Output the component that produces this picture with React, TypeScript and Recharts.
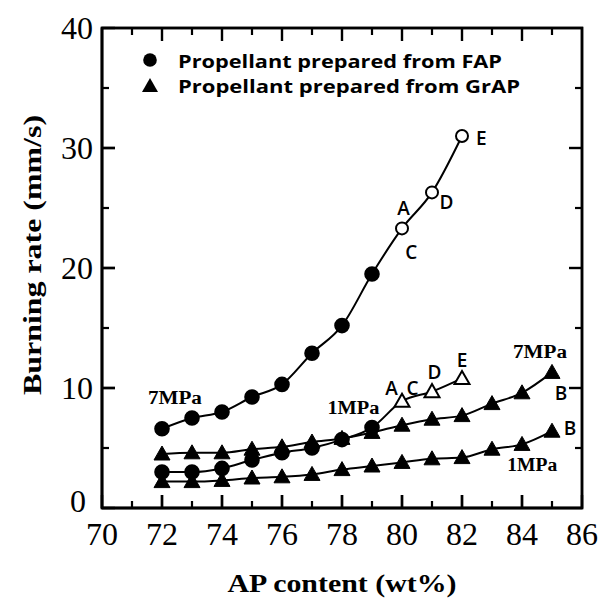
import React from 'react';
import * as Recharts from 'recharts';
import { LineChart, Line, XAxis, YAxis, Customized } from 'recharts';

// AP content (wt%) for each series
const fapContent = [72, 73, 74, 75, 76, 77, 78, 79, 80, 81, 82];
const grapContent = [72, 73, 74, 75, 76, 77, 78, 79, 80, 81, 82, 83, 84, 85];

// Burning rate (mm/s)
const fap7MPa = [6.6, 7.5, 8.0, 9.25, 10.3, 12.9, 15.2, 19.5, 23.3, 26.3, 31.0];
const fap1MPa = [3.0, 3.0, 3.3, 4.0, 4.6, 5.0, 5.7, 6.7, 8.9, 9.7, 10.8];
const grap7MPa = [4.5, 4.6, 4.6, 4.9, 5.1, 5.5, 5.8, 6.3, 6.9, 7.4, 7.7, 8.7, 9.6, 11.3];
const grap1MPa = [2.2, 2.2, 2.3, 2.5, 2.6, 2.8, 3.2, 3.5, 3.8, 4.1, 4.2, 4.9, 5.3, 6.4];

// FAP samples A, C, D, E (80-82 wt%) drawn with open markers
const fapOpenFrom = 80;

const xDomain = [70, 86];
const yDomain = [0, 40];
const xMajor = [70, 72, 74, 76, 78, 80, 82, 84, 86];
const xMinor = [71, 73, 75, 77, 79, 81, 83, 85];
const yMajor = [0, 10, 20, 30, 40];
const yMinor = [5, 15, 25, 35];

const annotations = [
  { text: '7MPa', x: 72.43, y: 9.17, kind: 'serif', len: 54 },
  { text: '1MPa', x: 78.38, y: 8.33, kind: 'serif', len: 52 },
  { text: '7MPa', x: 84.6, y: 13.0, kind: 'serif', len: 54 },
  { text: '1MPa', x: 84.34, y: 3.58, kind: 'serif', len: 50 },
  { text: 'B', x: 85.3, y: 9.6, kind: 'sans', len: 0 },
  { text: 'B', x: 85.6, y: 6.67, kind: 'sans', len: 0 },
  { text: 'A', x: 80.05, y: 25.0, kind: 'sans', len: 0 },
  { text: 'C', x: 80.31, y: 21.33, kind: 'sans', len: 0 },
  { text: 'D', x: 81.48, y: 25.5, kind: 'sans', len: 0 },
  { text: 'E', x: 82.64, y: 30.83, kind: 'sans', len: 0 },
  { text: 'A', x: 79.65, y: 10.0, kind: 'sans', len: 0 },
  { text: 'C', x: 80.35, y: 10.0, kind: 'sans', len: 0 },
  { text: 'D', x: 81.08, y: 11.33, kind: 'sans', len: 0 },
  { text: 'E', x: 82.0, y: 12.33, kind: 'sans', len: 0 },
];

const toData = (xs: number[], ys: number[], openFrom: number | null) =>
  xs.map((x, i) => ({ x, y: ys[i], open: openFrom !== null && x >= openFrom }));

const fap7Data = toData(fapContent, fap7MPa, fapOpenFrom);
const fap1Data = toData(fapContent, fap1MPa, fapOpenFrom);
const grap7Data = toData(grapContent, grap7MPa, null);
const grap1Data = toData(grapContent, grap1MPa, null);

// plot frame corners (bottom-left, top-right)
const frameCorners = [
  { x: xDomain[0], y: yDomain[0] },
  { x: xDomain[1], y: yDomain[1] },
];

// inward tick marks on all four sides
const innerX = (vs: number[]) => vs.filter((v) => v !== xDomain[0] && v !== xDomain[1]);
const innerY = (vs: number[]) => vs.filter((v) => v !== yDomain[0] && v !== yDomain[1]);
const tickMarks = [
  ...innerX(xMajor).map((v) => ({ x: v, y: yDomain[0], side: 'b', major: true })),
  ...xMinor.map((v) => ({ x: v, y: yDomain[0], side: 'b', major: false })),
  ...innerX(xMajor).map((v) => ({ x: v, y: yDomain[1], side: 't', major: true })),
  ...xMinor.map((v) => ({ x: v, y: yDomain[1], side: 't', major: false })),
  ...innerY(yMajor).map((v) => ({ x: xDomain[0], y: v, side: 'l', major: true })),
  ...yMinor.map((v) => ({ x: xDomain[0], y: v, side: 'l', major: false })),
  ...innerY(yMajor).map((v) => ({ x: xDomain[1], y: v, side: 'r', major: true })),
  ...yMinor.map((v) => ({ x: xDomain[1], y: v, side: 'r', major: false })),
];

const tri = (cx: number, cy: number, s = 8) =>
  `M${cx},${cy - s} L${cx + s},${cy + s * 0.75} L${cx - s},${cy + s * 0.75} Z`;

const FRAME_W = 2.5;
const framePath = (left: number, top: number, right: number, bottom: number) => {
  const h = FRAME_W / 2;
  return (
    `M${left - h},${top - h} H${right + h} V${bottom + h} H${left - h} Z ` +
    `M${left + h},${top + h} V${bottom - h} H${right - h} V${top + h} Z`
  );
};

const makeDot = (filledShape: 'circle' | 'triangle', openShape: 'circle' | 'triangle') => (props: any) => {
  const { cx, cy, payload, index } = props;
  if (cx == null || cy == null) return <g key={index} />;
  const open = payload && payload.open;
  const shape = open ? openShape : filledShape;
  const fill = open ? '#fff' : '#000';
  if (shape === 'circle') {
    return <circle key={index} cx={cx} cy={cy} r={open ? 6 : 6.8} fill={fill} stroke="#000" strokeWidth={2} />;
  }
  return <path key={index} d={tri(cx, cy, open ? 7.5 : 8)} fill={fill} stroke="#000" strokeWidth={open ? 2 : 1} />;
};

// frame drawn as a filled ring from the two scaled corner points
const frameDot = (props: any) => {
  const { index, points } = props;
  if (index !== 0 || !points || points.length < 2) return <g key={index} />;
  const a = points[0];
  const b = points[1];
  const left = Math.min(a.x, b.x);
  const right = Math.max(a.x, b.x);
  const top = Math.min(a.y, b.y);
  const bottom = Math.max(a.y, b.y);
  return <path key={index} d={framePath(left, top, right, bottom)} fill="#000" fillRule="evenodd" />;
};

// tick marks drawn as thin filled rectangles
const tickMarkDot = (props: any) => {
  const { cx, cy, payload, index } = props;
  if (cx == null || cy == null || !payload) return <g key={index} />;
  const len = payload.major ? 13 : 7;
  const w = payload.major ? 2.4 : 2.2;
  const side = payload.side;
  let x = cx - w / 2;
  let y = cy - len;
  let width = w;
  let height = len;
  if (side === 't') {
    y = cy;
  } else if (side === 'l') {
    x = cx;
    y = cy - w / 2;
    width = len;
    height = w;
  } else if (side === 'r') {
    x = cx - len;
    y = cy - w / 2;
    width = len;
    height = w;
  }
  return <rect key={index} x={x} y={y} width={width} height={height} fill="#000" />;
};

const annotationDot = (props: any) => {
  const { cx, cy, payload, index } = props;
  if (cx == null || cy == null || !payload) return <g key={index} />;
  if (payload.kind === 'serif') {
    return (
      <text key={index} x={cx} y={cy + 6} textAnchor="middle" fill="#000" fontFamily="Liberation Serif" fontWeight={700} fontSize={18} textLength={payload.len} lengthAdjust="spacingAndGlyphs">
        {payload.text}
      </text>
    );
  }
  return (
    <text key={index} x={cx} y={cy + 7} textAnchor="middle" fill="#000" fontFamily="Open Sans" fontWeight={600} fontSize={19}>
      {payload.text}
    </text>
  );
};

const BottomTick = (props: any) => {
  const x = Number(props.x);
  const y = Number(props.y);
  return (
    <text x={x} y={y + 37} textAnchor="middle" fontFamily="Liberation Serif" fontSize={32} fill="#000">
      {props.payload.value}
    </text>
  );
};

const LeftTick = (props: any) => {
  const x = Number(props.x);
  const y = Number(props.y);
  const v = props.payload.value;
  return (
    <text x={v === 0 ? x - 16 : x - 9} y={v === 0 ? y + 4 : y + 11} textAnchor="end" fontFamily="Liberation Serif" fontSize={32} fill="#000">
      {v}
    </text>
  );
};

// second copy of the frame from the chart's plot area (if the hook is available)
const usePlotAreaSafe: () => any = (Recharts as any).usePlotArea || (() => null);
const PlotFrame = () => {
  const area = usePlotAreaSafe();
  if (!area || !(area.width > 0)) return null;
  return <path d={framePath(area.x, area.y, area.x + area.width, area.y + area.height)} fill="#000" fillRule="evenodd" />;
};

const Decorations = () => (
  <g>
    <circle cx={150} cy={60} r={6.8} fill="#000" />
    <text x={178} y={68} fontFamily="Open Sans" fontWeight={700} fontSize={18} textLength={324} lengthAdjust="spacingAndGlyphs" fill="#000">
      Propellant prepared from FAP
    </text>
    <path d={tri(150, 86, 8)} fill="#000" />
    <text x={178} y={93} fontFamily="Open Sans" fontWeight={700} fontSize={18} textLength={342} lengthAdjust="spacingAndGlyphs" fill="#000">
      Propellant prepared from GrAP
    </text>
    <text x={342} y={592} textAnchor="middle" fontFamily="Liberation Serif" fontWeight={700} fontSize={25} textLength={229} lengthAdjust="spacingAndGlyphs" fill="#000">
      AP content (wt%)
    </text>
    <text x={41} y={255} transform="rotate(-90 41 255)" textAnchor="middle" fontFamily="Liberation Serif" fontWeight={700} fontSize={25} textLength={280} lengthAdjust="spacingAndGlyphs" fill="#000">
      Burning rate  (mm/s)
    </text>
  </g>
);

const frameStroke = { stroke: '#000', strokeWidth: 2.5 };
const majorLine = { stroke: '#000', strokeWidth: 2.4 };

export default function App() {
  return (
    <div style={{ position: 'absolute', left: 0, top: 0 }}>
      <LineChart width={601} height={600} margin={{ top: 28, right: 19, bottom: 91, left: 101 }}>
        <XAxis xAxisId={0} type="number" dataKey="x" domain={xDomain} ticks={xMajor} interval={0} tick={BottomTick}
          height={1} tickSize={-13} tickMargin={13} tickLine={majorLine} axisLine={frameStroke} />
        <YAxis yAxisId={0} type="number" dataKey="y" domain={yDomain} ticks={yMajor} interval={0} tick={LeftTick}
          width={1} tickSize={-13} tickMargin={13} tickLine={majorLine} axisLine={frameStroke} />
        <Line data={frameCorners} dataKey="y" xAxisId={0} yAxisId={0} stroke="none" strokeWidth={0} dot={frameDot} isAnimationActive={false} />
        <Line data={tickMarks} dataKey="y" xAxisId={0} yAxisId={0} stroke="none" strokeWidth={0} dot={tickMarkDot} isAnimationActive={false} />
        <Line data={grap1Data} dataKey="y" xAxisId={0} yAxisId={0} type="monotone" stroke="#000" strokeWidth={2} dot={makeDot('triangle', 'triangle')} isAnimationActive={false} />
        <Line data={grap7Data} dataKey="y" xAxisId={0} yAxisId={0} type="monotone" stroke="#000" strokeWidth={2} dot={makeDot('triangle', 'triangle')} isAnimationActive={false} />
        <Line data={fap1Data} dataKey="y" xAxisId={0} yAxisId={0} type="monotone" stroke="#000" strokeWidth={2} dot={makeDot('circle', 'triangle')} isAnimationActive={false} />
        <Line data={fap7Data} dataKey="y" xAxisId={0} yAxisId={0} type="monotone" stroke="#000" strokeWidth={2} dot={makeDot('circle', 'circle')} isAnimationActive={false} />
        <Line data={annotations} dataKey="y" xAxisId={0} yAxisId={0} stroke="none" strokeWidth={0} dot={annotationDot} isAnimationActive={false} />
        <Customized component={PlotFrame} />
        <Customized component={Decorations} />
      </LineChart>
    </div>
  );
}
